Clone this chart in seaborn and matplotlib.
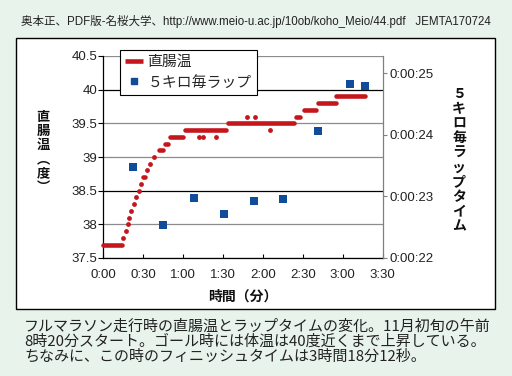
import matplotlib
matplotlib.use("Agg")
import matplotlib.pyplot as plt
import seaborn as sns
from matplotlib.patches import Rectangle
from matplotlib.lines import Line2D

# ---------------- data ----------------
# rectal temperature: flat runs (start min, end min, deg C)
seg_start = [0, 29.5, 41.5, 46.5, 50.5, 61.5, 94, 145, 150.5, 161, 175]
seg_end = [14, 31.5, 45, 48.5, 60, 92.5, 143, 148, 160, 175, 197]
seg_temp = [37.7, 38.7, 39.1, 39.2, 39.3, 39.4, 39.5, 39.6, 39.7, 39.8, 39.9]
# rectal temperature: single readings
dot_time = [15, 16.8, 18.2, 19.5, 20.7, 22.7, 24.6, 26.6, 28.6, 33, 35, 38.3,
            72.2, 75.2, 84.7, 107.8, 114, 125.3]
dot_temp = [37.8, 37.9, 38.0, 38.1, 38.2, 38.3, 38.4, 38.5, 38.6, 38.8, 38.9, 39.0,
            39.3, 39.3, 39.3, 39.6, 39.6, 39.4]
# 5 km lap times (elapsed min, lap minutes)
lap_time = [22.5, 45.1, 68.2, 90.7, 113.3, 135.3, 161.1, 185.4, 196.7]
lap_minutes = [23.47, 22.53, 22.98, 22.72, 22.93, 22.96, 24.07, 24.82, 24.79]

x_ticks = [0, 30, 60, 90, 120, 150, 180, 210]
x_labels = ["0:00", "0:30", "1:00", "1:30", "2:00", "2:30", "3:00", "3:30"]
left_ticks = [37.5, 38, 38.5, 39, 39.5, 40, 40.5]
left_labels = ["37.5", "38", "38.5", "39", "39.5", "40", "40.5"]
right_ticks = [22, 23, 24, 25]
right_labels = ["0:00:22", "0:00:23", "0:00:24", "0:00:25"]

legend_temp = "直腸温"
legend_lap = "５キロ毎ラップ"
x_title = "時間（分）"
y_title = "直\n腸\n温\n︵\n度\n︶"
y2_title = "５\nキ\nロ\n毎\nラ\nッ\nプ\nタ\nイ\nム"
source_text = "奥本正、PDF版-名桜大学、http://www.meio-u.ac.jp/10ob/koho_Meio/44.pdf   JEMTA170724"
caption_lines = [
    "フルマラソン走行時の直腸温とラップタイムの変化。11月初旬の午前",
    "8時20分スタート。ゴール時には体温は40度近くまで上昇している。",
    "ちなみに、この時のフィニッシュタイムは3時間18分12秒。",
]

# ---------------- style ----------------
sns.set_style("white")
plt.rcParams['font.family'] = ['Liberation Sans', 'Noto Sans CJK JP', 'DejaVu Sans']
CJK = ['Noto Sans CJK JP', 'DejaVu Sans']

RED = "#c4161c"
BLUE = "#0f4c9a"
BG = "#e8f3eb"
W, H = 512, 376


def fx(px):
    return px / W


def fy(py):
    return 1 - py / H


fig = plt.figure(figsize=(W / 100, H / 100), dpi=100, facecolor=BG)

panel = Rectangle((fx(16), fy(309)), (495 - 16) / W, (309 - 38) / H,
                  transform=fig.transFigure, facecolor="white",
                  edgecolor="black", lw=1.0, zorder=-1)
fig.patches.append(panel)

ax = fig.add_axes([fx(103.3), fy(258), (382.7 - 103.3) / W, (258 - 56) / H])
ax.set_facecolor("none")
ax2 = ax.twinx()

# temperature
ax.hlines(seg_temp, seg_start, seg_end, colors=RED, linewidth=3.3,
          capstyle="round", clip_on=False, zorder=3)
sns.scatterplot(x=dot_time, y=dot_temp, ax=ax, color=RED, s=12,
                linewidth=0, zorder=3, legend=False)
# lap times
sns.scatterplot(x=lap_time, y=lap_minutes, ax=ax2, color=BLUE, marker="s",
                s=40, linewidth=0, zorder=3, legend=False)

ax.set_xlim(0, 210)
ax.set_ylim(37.5, 40.5)
ax2.set_ylim(22, 25.28)

ax.set_xticks(x_ticks)
ax.set_xticklabels(x_labels)
ax.set_yticks(left_ticks)
ax.set_yticklabels(left_labels)
ax2.set_yticks(right_ticks)
ax2.set_yticklabels(right_labels)

ax.grid(axis="y", color="#8c8c8c", lw=0.9)
ax.grid(axis="x", visible=False)
gl = ax.get_ygridlines()
for i, v in enumerate(left_ticks):
    if v in (40, 38.5):
        gl[i].set_color("black")

ax.spines["top"].set_visible(False)
ax2.spines["top"].set_visible(False)
ax.spines["left"].set_color("black")
ax.spines["bottom"].set_color("black")
ax.spines["left"].set_linewidth(0.9)
ax.spines["bottom"].set_linewidth(0.9)
ax2.spines["left"].set_visible(False)
ax2.spines["bottom"].set_visible(False)
ax2.spines["right"].set_color("#808080")
ax2.spines["right"].set_linewidth(0.9)
ax.spines["right"].set_visible(False)

ax.tick_params(axis="y", direction="out", length=3.5, width=0.8, color="black",
               labelsize=9.5, labelcolor="#222222", pad=0.8, left=True)
ax.tick_params(axis="x", direction="in", length=3, width=0.8, color="black",
               labelsize=9.5, labelcolor="#222222", pad=8, bottom=True)
ax2.tick_params(axis="y", direction="out", length=3, width=0.8, color="#808080",
                labelsize=9.5, labelcolor="#222222", pad=2, right=True)

ax.set_xlabel(x_title, fontsize=10, fontweight="bold", labelpad=6, color="#111111",
              family=CJK)
ax.set_ylabel(y_title, fontsize=9.5, fontweight="bold", rotation=0, family=CJK,
              ha="center", va="center", linespacing=1.0, color="#111111")
ax.yaxis.set_label_coords((43 - 103.3) / 279.4, (258 - 152) / 202)
ax2.set_ylabel(y2_title, fontsize=10, fontweight="bold", rotation=0, family=CJK,
               ha="center", va="center", linespacing=1.06, color="#111111")
ax2.yaxis.set_label_coords((459 - 103.3) / 279.4, (258 - 160) / 202)

handles = [Line2D([0], [0], color=RED, lw=3.3, solid_capstyle="butt"),
           Line2D([0], [0], color=BLUE, marker="s", ls="", markersize=5)]
leg = ax2.legend(handles, [legend_temp, legend_lap], loc="upper left",
                 bbox_to_anchor=(fx(120), fy(50)), bbox_transform=fig.transFigure,
                 borderaxespad=0, frameon=True, fancybox=False,
                 framealpha=1, edgecolor="black", borderpad=0.35,
                 handlelength=1.2, handletextpad=0.3, labelspacing=0.42,
                 prop={'family': CJK, 'size': 10.7})
leg.get_frame().set_linewidth(0.8)

fig.text(fx(20.7), fy(21.5), source_text, fontsize=8.3, color="#222222",
         ha="left", va="center")

for i, line in enumerate(caption_lines):
    fig.text(fx(24), fy(327 + 15 * i), line, fontsize=10.8, color="#222222",
             ha="left", va="center", family=CJK)

fig.savefig("out.png", dpi=100, facecolor=BG)
